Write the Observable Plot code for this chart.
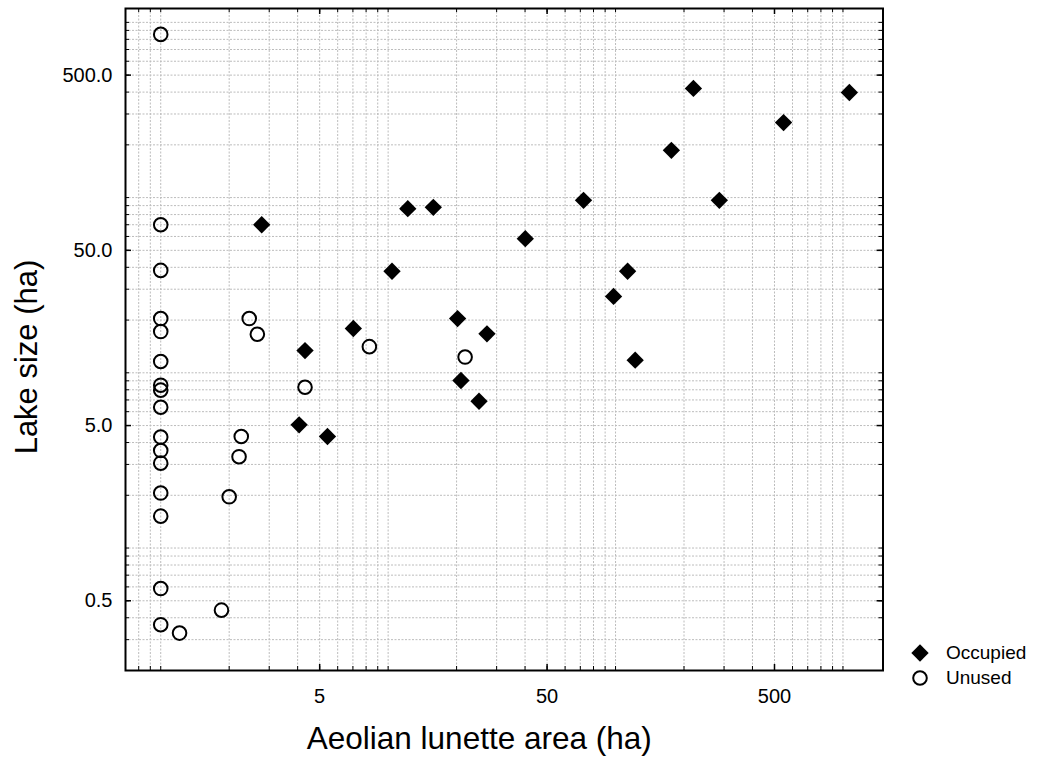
<!DOCTYPE html>
<html><head><meta charset="utf-8">
<script src="https://cdn.jsdelivr.net/npm/d3@7"></script>
<script src="https://cdn.jsdelivr.net/npm/@observablehq/plot@0.6"></script>
<style>
body{margin:0;background:#fff;}
#wrap{position:relative;width:1046px;height:765px;font-family:"Liberation Sans",Arial,sans-serif;}
.leg{position:absolute;left:910px;height:25px;font-size:19px;display:flex;align-items:center;color:#000;}
.leg svg{margin-right:16px;}
#ytitle{position:absolute;left:26px;top:357px;font-size:31px;line-height:31px;white-space:nowrap;color:#000;transform:translate(-50%,-50%) rotate(-90deg);}
</style></head><body><div id="wrap"></div>
<script>
// Occupied lakes
const occupiedArea = [220, 1067, 548, 176, 72.3, 286, 40.1, 113, 98, 122, 2.78, 12.2, 15.8, 10.4, 20.2, 27.2, 7.03, 4.31, 20.9, 25.1, 4.06, 5.41];
const occupiedLake = [420, 398, 268, 186, 96.5, 96.5, 58.3, 38, 27.3, 11.8, 70, 86.5, 88, 38, 20.4, 16.7, 17.9, 13.4, 9.04, 6.88, 5.05, 4.33];
// Unused lakes
const unusedArea = [1, 1, 1, 1, 1, 2.45, 2.66, 8.27, 21.8, 1, 4.31, 1, 1, 1, 2.26, 2.21, 1, 1, 1, 1, 1, 2.0, 1, 1.85, 1, 1.21];
const unusedLake = [854, 70, 38.4, 20.4, 17.2, 20.4, 16.6, 14.1, 12.3, 11.6, 8.27, 8.5, 7.96, 6.36, 4.33, 3.32, 4.3, 3.6, 3.05, 2.06, 1.52, 1.96, 0.587, 0.442, 0.365, 0.327];

const xGrid = [0.8, 0.9, 1, 2, 3, 4, 5, 6, 7, 8, 9, 10, 20, 30, 40, 50, 60, 70, 80, 90, 100, 200, 300, 400, 500, 600, 700, 800, 900, 1000];
const yGrid = [0.3, 0.4, 0.5, 0.6, 0.7, 0.8, 0.9, 1, 2, 3, 4, 5, 6, 7, 8, 9, 10, 20, 30, 40, 50, 60, 70, 80, 90, 100, 200, 300, 400, 500, 600, 700, 800, 900, 1000];
const xLabels = [5, 50, 500];
const yLabels = [0.5, 5, 50, 500];
const xTitle = "Aeolian lunette area (ha)";
const yTitle = "Lake size (ha)";
const legendLabels = ["Occupied", "Unused"];

const occupied = occupiedArea.map((a, i) => ({area: a, lake: occupiedLake[i]}));
const unused = unusedArea.map((a, i) => ({area: a, lake: unusedLake[i]}));

const W = 1046, H = 765, mL = 125, mR = 163.5, mT = 8, mB = 95;
const fw = W - mL - mR, fh = H - mT - mB;
const font = "'Liberation Sans', Arial, sans-serif";
const gridStyle = {stroke: "#bcbcbc", strokeOpacity: 1, strokeDasharray: "2,1.5", strokeWidth: 1};
const dR = 7.8, cR = 6.8;

const plot = Plot.plot({
  width: W, height: H,
  marginLeft: mL, marginRight: mR, marginTop: mT, marginBottom: mB,
  x: {type: "log", domain: [0.7, 1500], axis: null},
  y: {type: "log", domain: [0.2, 1200], axis: null},
  style: {fontFamily: font, fontSize: "20px", color: "black", background: "white", overflow: "visible"},
  marks: [
    Plot.gridX(xGrid, gridStyle),
    Plot.gridY(yGrid, gridStyle),
    Plot.tickX(xGrid, {x: d => d, insetTop: fh - 4, stroke: "black"}),
    Plot.tickX(xGrid, {x: d => d, insetBottom: fh - 4, stroke: "black"}),
    Plot.tickX(xLabels, {x: d => d, insetTop: fh - 6, stroke: "black", strokeWidth: 1.5}),
    Plot.tickX(xLabels, {x: d => d, insetBottom: fh - 6, stroke: "black", strokeWidth: 1.5}),
    Plot.tickY(yGrid, {y: d => d, insetRight: fw - 4, stroke: "black"}),
    Plot.tickY(yGrid, {y: d => d, insetLeft: fw - 4, stroke: "black"}),
    Plot.tickY(yLabels, {y: d => d, insetRight: fw - 6, stroke: "black", strokeWidth: 1.5}),
    Plot.tickY(yLabels, {y: d => d, insetLeft: fw - 6, stroke: "black", strokeWidth: 1.5}),
    Plot.text(xLabels, {x: d => d, text: d => String(d), frameAnchor: "bottom", dy: 18, lineAnchor: "top", fontSize: 20, fill: "black"}),
    Plot.text(yLabels, {y: d => d, text: d => d.toFixed(1), frameAnchor: "left", dx: -13, textAnchor: "end", lineAnchor: "middle", fontSize: 20, fill: "black"}),
    Plot.dot(unused, {x: "area", y: "lake", r: cR, stroke: "black", strokeWidth: 2, fill: "none"}),
    Plot.dot(occupied, {x: "area", y: "lake", symbol: "diamond2", r: dR, fill: "black", stroke: "none"}),
    Plot.frame({stroke: "black", strokeWidth: 2}),
    Plot.text([xTitle], {frameAnchor: "bottom", dx: -25, dy: 78.5, lineAnchor: "bottom", fontSize: 31.5, fill: "black"})
  ]
});

const wrap = document.getElementById("wrap");
wrap.appendChild(plot);

const yt = document.createElement("div");
yt.id = "ytitle";
yt.textContent = yTitle;
wrap.appendChild(yt);

// legend
const legendSymbols = [
  {path: d3.symbol(d3.symbolDiamond2, Math.PI * dR * dR)(), fill: "black", stroke: "none", sw: 0},
  {path: d3.symbol(d3.symbolCircle, Math.PI * cR * cR)(), fill: "none", stroke: "black", sw: 2}
];
const legendTops = [640.5, 665.5];
legendLabels.forEach((lab, i) => {
  const row = document.createElement("div");
  row.className = "leg";
  row.style.top = legendTops[i] + "px";
  const s = legendSymbols[i];
  row.innerHTML = `<svg width="20" height="20" viewBox="-10 -10 20 20" style="overflow:visible"><path d="${s.path}" fill="${s.fill}" stroke="${s.stroke}" stroke-width="${s.sw}"/></svg><span>${lab}</span>`;
  wrap.appendChild(row);
});
</script>
</body></html>
